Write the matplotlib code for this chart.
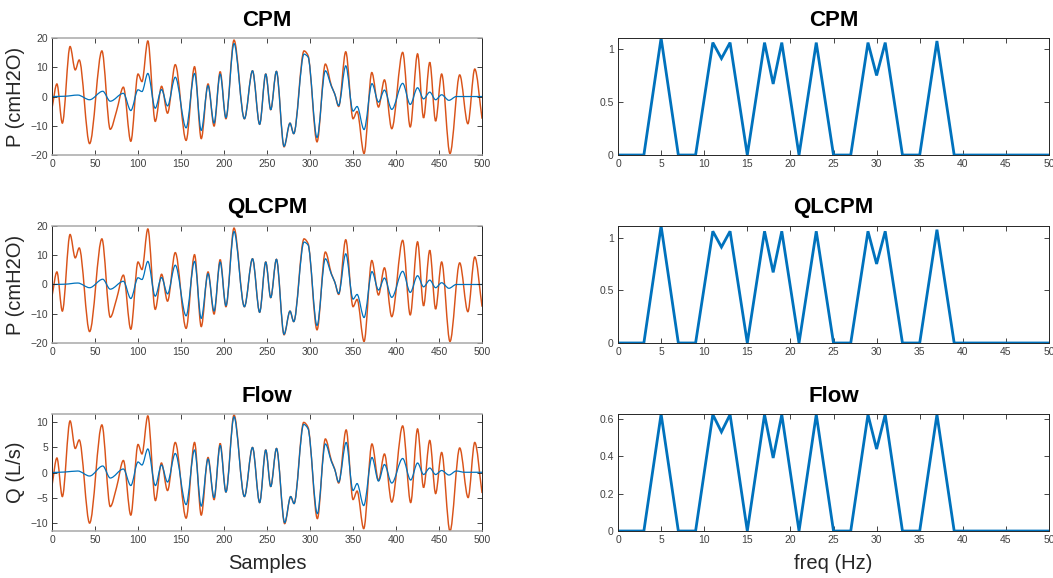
import numpy as np
import matplotlib
matplotlib.use("Agg")
import matplotlib.pyplot as plt
from matplotlib.path import Path
from matplotlib.patches import PathPatch

plt.rcParams['font.family'] = ['Liberation Sans', 'DejaVu Sans']

# ---- time series (sample, value at peaks / troughs / shoulders) ----
cpm_in_x = [0, 5.7, 12, 21, 27, 31.6, 43.7, 58, 67.7, 75, 83, 91.6, 100, 104.6, 111.4, 120,
            127.4, 134.3, 143.3, 155.9, 165.7, 173.5, 181.4, 188.4, 195.5, 202.2, 211.6, 223.7,
            233.1, 241.4, 248.5, 254.3, 260.9, 269.8, 276.7, 281, 293, 297.7, 308.1, 317.8,
            324.8, 328.7, 333.3, 341.5, 350, 354.7, 362.8, 371.8, 379.6, 386.5, 395, 407.7,
            416.5, 425, 432, 439.2, 446, 453, 462.7, 474, 483.5, 491.5, 500]
cpm_in_y = [-4.0, 4.3, -9.1, 17.1, 9.1, 12.5, -16.1, 15.6, -11.2, -5.0, 3.2, -15.3, 7.7, 5.1, 19.0, -8.5,
            3.5, -5.7, 10.9, -15.0, 10.2, -14.4, 4.3, -10.1, 8.5, -7.6, 19.3, -7.6,
            8.8, -9.5, 7.7, -4.5, 8.6, -17.2, -9.1, -12.7, 15.6, 14.0, -15.5, 11.1,
            3.7, 0.9, -3.4, 15.3, -7.6, -5.1, -19.5, 8.2, -3.6, 5.7, -11.0, 15.1,
            -10.4, 14.6, -7.3, 11.7, -8.4, 7.7, -19.5, 7.4, -9.3, 9.4, -7.6]

cpm_out_x = [0, 15, 30, 43.7, 59, 67.7, 83, 91.6, 100, 104.6, 111.4, 120, 127.3, 134.3, 143.3,
             155.9, 165.7, 173.5, 181.4, 188.4, 195.5, 202.2, 211.6, 223.7, 233.1, 241.4, 248.5,
             254.3, 260.9, 269.8, 276.7, 281, 293, 297.7, 308.1, 317.8, 324.8, 328.7, 333.3,
             341.5, 350, 354.7, 362.8, 372, 379.6, 386.5, 395, 407.7, 416.5, 425, 432, 439.2,
             446, 453, 461.5, 470, 500]
cpm_out_y = [0.0, 0.1, 0.5, -1.1, 1.8, -1.6, 1.1, -4.8, 2.3, 1.7, 7.9, -4.0, 2.4, -3.2, 6.6,
             -10.7, 7.9, -11.6, 3.7, -9.1, 7.7, -7.2, 18.1, -7.6, 8.8, -9.5, 7.7,
             -4.5, 8.6, -17.0, -9.1, -12.7, 14.5, 13.5, -14.0, 8.8, 3.5, 0.9, -3.1,
             10.5, -5.0, -3.4, -11.3, 4.4, -1.9, 2.2, -4.4, 4.5, -2.7, 3.0, -0.8, 1.5,
             -1.1, 0.6, -1.3, 0.0, 0.0]

# QLCPM panel reads the same as CPM
qlcpm_in_x, qlcpm_in_y = cpm_in_x, cpm_in_y
qlcpm_out_x, qlcpm_out_y = cpm_out_x, cpm_out_y

flow_in_x = [0, 5.7, 12, 21, 27, 31.6, 43.7, 58, 67.7, 75, 83, 91.6, 100, 104.6, 111.4, 120.2,
             127.2, 134.3, 143.3, 155.9, 165.7, 173.5, 181.4, 188.4, 195.5, 202.2, 211.6, 223.7,
             233.1, 241.4, 248.5, 254.3, 261, 270.5, 277.5, 281.4, 292.6, 297.7, 308.5, 317.8,
             324.8, 328.7, 333.3, 342, 350, 354.7, 362.4, 372, 379.6, 386.5, 395, 407.7,
             417, 425, 432, 439.2, 446, 453, 462.7, 474, 483.8, 491.5, 500]
flow_in_y = [-2.6, 2.9, -4.8, 10.3, 4.8, 6.5, -10.1, 9.5, -6.8, -3.0, 2.4, -8.5, 5.6, 3.7, 11.3, -5.6,
             1.9, -3.6, 6.0, -9.1, 6.0, -8.5, 3.0, -5.4, 5.8, -3.9, 11.5, -4.8,
             5.0, -6.0, 4.5, -2.8, 4.8, -10.2, -4.8, -6.2, 10.0, 9.0, -9.2, 6.7,
             2.4, 0.7, -2.1, 8.5, -5.4, -3.7, -11.2, 5.7, -1.6, 3.7, -5.9, 9.3,
             -6.0, 8.7, -3.0, 6.4, -4.2, 4.0, -11.7, 4.9, -5.0, 6.0, -4.1]

flow_out_x = [0, 15, 30, 43.7, 59, 67.7, 83, 91.6, 100, 104.6, 111.4, 120.2, 127.2, 134.3, 143.3,
              155.9, 165.7, 173.5, 181.4, 188.4, 195.5, 202.2, 211.6, 223.7, 233.1, 241.4, 248.5,
              254.3, 261, 270.5, 277.5, 281.4, 292.6, 297.7, 308.5, 317.8, 324.8, 328.7, 333.3,
              342, 350, 354.7, 362.4, 372, 379.6, 386.5, 395, 407.7, 417, 425, 432, 439.2,
              446, 453, 461.5, 470, 480, 500]
flow_out_y = [0.0, 0.1, 0.3, -0.7, 1.3, -1.1, 0.7, -2.6, 2.1, 1.5, 4.7, -2.6, 1.5, -1.9, 3.8,
              -6.4, 4.5, -6.7, 2.7, -5.0, 5.4, -3.9, 11.1, -4.8, 5.0, -6.0, 4.5,
              -2.8, 4.8, -10.0, -4.8, -6.2, 9.6, 8.7, -8.2, 5.7, 2.2, 0.6, -1.9,
              6.0, -3.6, -2.2, -6.6, 3.0, -1.7, 1.6, -2.1, 2.8, -1.5, 1.9, -0.4, 0.9,
              -0.4, 0.4, -0.5, 0.3, 0.05, 0.05]

# ---- spectra ----
freq = [0, 3, 5, 7, 9, 11, 12, 13, 15, 17, 18, 19, 21, 23, 25, 27, 29, 30, 31, 33, 35, 37, 39, 50]
cpm_mag = [0, 0, 1.103, 0, 0, 1.06, 0.91, 1.06, 0, 1.06, 0.67, 1.06, 0, 1.06, 0, 0, 1.06, 0.75, 1.06, 0, 0, 1.075, 0, 0]
qlcpm_mag = [0, 0, 1.11, 0, 0, 1.06, 0.91, 1.06, 0, 1.06, 0.67, 1.06, 0, 1.06, 0, 0, 1.06, 0.75, 1.06, 0, 0, 1.075, 0, 0]
flow_mag = [0, 0, 0.628, 0, 0, 0.625, 0.532, 0.625, 0, 0.625, 0.392, 0.625, 0, 0.625, 0, 0, 0.625, 0.44, 0.625, 0, 0, 0.625, 0, 0]

ORANGE = '#D95319'
BLUE = '#0072BD'
AXC = '#262626'


def smooth_path(x, y):
    # cubic Hermite drawing through the read points (flat tangent at peaks/troughs)
    x = np.asarray(x, float)
    y = np.asarray(y, float)
    n = len(x)
    m = np.zeros(n)
    m[0] = (y[1] - y[0]) / (x[1] - x[0])
    m[-1] = (y[-1] - y[-2]) / (x[-1] - x[-2])
    for i in range(1, n - 1):
        d0 = (y[i] - y[i - 1]) / (x[i] - x[i - 1])
        d1 = (y[i + 1] - y[i]) / (x[i + 1] - x[i])
        if d0 * d1 > 0:
            m[i] = 2 / (1 / d0 + 1 / d1)
    verts = [(x[0], y[0])]
    codes = [Path.MOVETO]
    for i in range(n - 1):
        h = x[i + 1] - x[i]
        verts += [(x[i] + h / 3, y[i] + m[i] * h / 3),
                  (x[i + 1] - h / 3, y[i + 1] - m[i + 1] * h / 3),
                  (x[i + 1], y[i + 1])]
        codes += [Path.CURVE4] * 3
    return Path(verts, codes)


def style(ax, left_col):
    ax.tick_params(direction='in', top=True, right=True, length=3.5, width=0.6,
                   color=AXC, labelcolor='#404040', labelsize=7.5, pad=3)
    for s in ax.spines.values():
        s.set_color(AXC)
        s.set_linewidth(0.7)
    if left_col:
        ax.spines['top'].set_color('#a8a8a8')
        ax.spines['bottom'].set_color('#a8a8a8')
        ax.spines['top'].set_linewidth(1.1)
        ax.spines['bottom'].set_linewidth(1.1)


fig = plt.figure(figsize=(10.53, 5.78), dpi=100)

rows = [0.7318, 0.4066, 0.0813]
h = 0.2024
lx, lw = 0.0494, 0.4084
rx, rw = 0.5869, 0.4093

titles = ['CPM', 'QLCPM', 'Flow']
ins = [(cpm_in_x, cpm_in_y), (qlcpm_in_x, qlcpm_in_y), (flow_in_x, flow_in_y)]
outs = [(cpm_out_x, cpm_out_y), (qlcpm_out_x, qlcpm_out_y), (flow_out_x, flow_out_y)]
ylims = [(-20, 20), (-20, 20), (-11.67, 11.67)]
yticks = [[-20, -10, 0, 10, 20], [-20, -10, 0, 10, 20], [-10, -5, 0, 5, 10]]
ylabels = ['P (cmH2O)', 'P (cmH2O)', 'Q (L/s)']
mags = [cpm_mag, qlcpm_mag, flow_mag]
mag_top = [1.103, 1.11, 0.628]
mag_ticks = [[0, 0.5, 1], [0, 0.5, 1], [0, 0.2, 0.4, 0.6]]

for k in range(3):
    ax = fig.add_axes([lx, rows[k], lw, h])
    ax.add_patch(PathPatch(smooth_path(*ins[k]), fill=False, edgecolor=ORANGE, lw=1.05))
    ax.add_patch(PathPatch(smooth_path(*outs[k]), fill=False, edgecolor=BLUE, lw=0.9))
    ax.set_xlim(0, 500)
    ax.set_ylim(*ylims[k])
    ax.set_xticks(np.arange(0, 501, 50))
    ax.set_yticks(yticks[k])
    ax.set_title(titles[k], fontsize=16, fontweight='bold', pad=9)
    ax.set_ylabel(ylabels[k], fontsize=14.5, color=AXC, labelpad=4)
    style(ax, True)
    if k == 2:
        ax.set_xlabel('Samples', fontsize=14.5, color=AXC, labelpad=6)

    ax2 = fig.add_axes([rx, rows[k], rw, h])
    ax2.plot(freq, mags[k], color=BLUE, lw=2.0, solid_joinstyle='miter')
    ax2.set_xlim(0, 50)
    ax2.set_ylim(0, mag_top[k])
    ax2.set_xticks(np.arange(0, 51, 5))
    ax2.set_yticks(mag_ticks[k])
    ax2.set_yticklabels([('%g' % v) for v in mag_ticks[k]])
    ax2.set_title(titles[k], fontsize=16, fontweight='bold', pad=9)
    style(ax2, False)
    if k == 2:
        ax2.set_xlabel('freq (Hz)', fontsize=14.5, color=AXC, labelpad=6)

fig.savefig('out.png', dpi=100)
